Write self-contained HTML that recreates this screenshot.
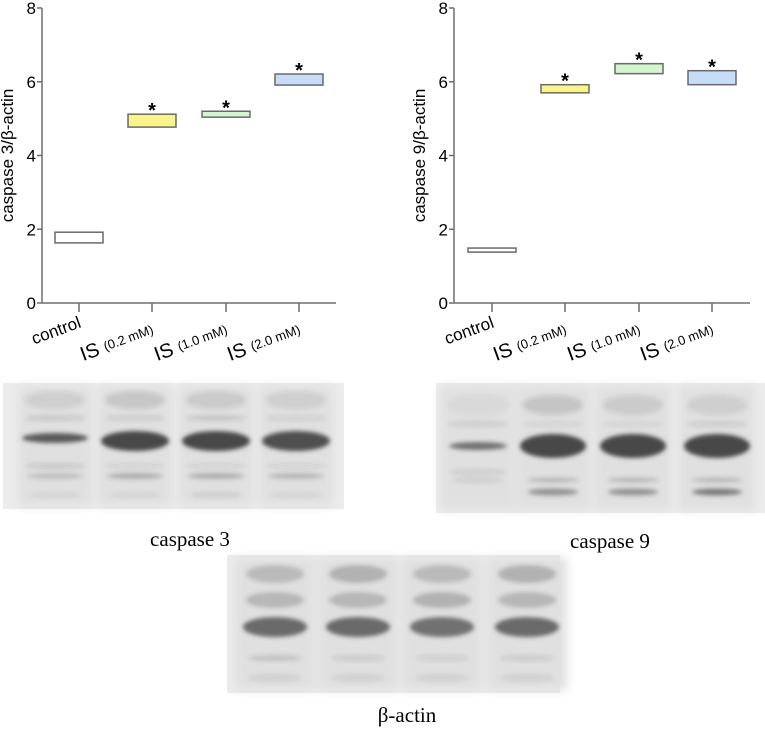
<!DOCTYPE html>
<html><head><meta charset="utf-8"><style>
html,body{margin:0;padding:0;background:#fff;width:765px;height:729px;overflow:hidden}
svg{display:block}
</style></head><body>
<svg id="fig" width="765" height="729" viewBox="0 0 765 729" xmlns="http://www.w3.org/2000/svg">
<defs>
<filter id="blur2" x="-20%" y="-80%" width="140%" height="260%"><feGaussianBlur stdDeviation="2"/></filter>
<filter id="blur4" x="-20%" y="-50%" width="140%" height="200%"><feGaussianBlur stdDeviation="5"/></filter>
</defs>
<g id="chart1"></g>
<g id="chart2"></g>
<g id="blots"></g>
<text x="190" y="546" font-family="Liberation Serif, serif" font-size="21" text-anchor="middle">caspase 3</text>
<text x="610" y="548" font-family="Liberation Serif, serif" font-size="21" text-anchor="middle">caspase 9</text>
<text x="407" y="722" font-family="Liberation Serif, 'DejaVu Serif', serif" font-size="21" text-anchor="middle">β-actin</text>
</svg>
<script>
const categories = ["control", "IS", "IS", "IS"];
const doses = ["", "(0.2 mM)", "(1.0 mM)", "(2.0 mM)"];
const colors = ["#ffffff", "#fbf48a", "#d4f5d0", "#c6dcf7"];
const yTicks = [0, 2, 4, 6, 8];
const c3Low = [1.63, 4.77, 5.04, 5.91];
const c3High = [1.92, 5.12, 5.20, 6.21];
const c3Sig = [false, true, true, true];
const c9Low = [1.38, 5.70, 6.22, 5.92];
const c9High = [1.49, 5.92, 6.49, 6.30];
const c9Sig = [false, true, true, true];

const NS = "http://www.w3.org/2000/svg";
function mk(tag, attrs, parent){const e=document.createElementNS(NS,tag);for(const k in attrs)e.setAttribute(k,attrs[k]);parent.appendChild(e);return e;}

function drawChart(g, ax, axEnd, tickXs, low, high, sig, ytitle){
  const y0=303, y8=8;
  const y=v=>y0-(y0-y8)*v/8;
  const ax1=mk("line",{x1:ax,y1:y(8),x2:ax,y2:y0,stroke:"#6e6e6e","stroke-width":1.5},g);
  
  
  const ax2=mk("line",{x1:ax,y1:y0,x2:axEnd,y2:y0,stroke:"#6e6e6e","stroke-width":1.5},g);
  
  
  yTicks.forEach(t=>{
    const tl=mk("line",{x1:ax-5,y1:y(t),x2:ax,y2:y(t),stroke:"#6e6e6e","stroke-width":1.5},g);
    
    
    const tx=mk("text",{x:ax-6,y:y(t)+6,"font-family":"Liberation Sans, sans-serif","font-size":17,"text-anchor":"end"},g);
    tx.textContent=t;
    
    
  });
  const tt=mk("text",{transform:`translate(${ax-29},${y(4)}) rotate(-90)`,"font-family":"Liberation Sans, DejaVu Sans, sans-serif","font-size":17,"text-anchor":"middle"},g);
  tt.textContent=ytitle;
  
  
  categories.forEach((c,i)=>{
    const cx=tickXs[i];
    const tk=mk("line",{x1:cx,y1:y0,x2:cx,y2:y0+9,stroke:"#6e6e6e","stroke-width":1.5},g);
    
    
    const r=mk("rect",{x:cx-24,y:y(high[i]),width:48,height:y(low[i])-y(high[i]),fill:colors[i],stroke:"#6a6a6a","stroke-width":1.5},g);
    
    
    if(sig[i]){
      const s=mk("text",{x:cx,y:y(high[i])+3,"font-family":"Liberation Sans, sans-serif","font-size":20,"font-weight":"bold","text-anchor":"middle"},g);
      s.textContent="*";
      
      
    }
    const lbl=mk("text",{transform:`translate(${cx+3},${y0+(i===0?24:32)}) rotate(-20)`,"font-family":"Liberation Sans, sans-serif","text-anchor":"end"},g);
    
    
    if(i===0){lbl.setAttribute("font-size",17);lbl.textContent=c;}
    else{
      const a=mk("tspan",{"font-size":20},lbl);a.textContent=c+" ";
      const b=mk("tspan",{"font-size":13,dy:-2},lbl);b.textContent=doses[i];
    }
  });
}
drawChart(document.getElementById("chart1"),42,336,[79,152,226,299],c3Low,c3High,c3Sig,"caspase 3/β-actin");
drawChart(document.getElementById("chart2"),454,750,[492,565,639,712],c9Low,c9High,c9Sig,"caspase 9/β-actin");

// blots
const bg=document.getElementById("blots");
function blot(x,y,w,h,lanes,bands,name,lw){
  const g=mk("g",{},bg);
  
  
  mk("rect",{x:x,y:y,width:w,height:h,fill:"#ececec"},g);
  lanes.forEach(lx=>{mk("rect",{x:lx-lw/2,y:y+3,width:lw,height:h-6,fill:"#e0e0e0",filter:"url(#blur4)"},g);});
  bands.forEach(b=>{
    lanes.forEach((lx,i)=>{
      const d=b.d[i]; if(!d)return;
      mk("ellipse",{cx:lx,cy:b.y,rx:b.w/2,ry:b.h/2,fill:`rgba(55,55,55,${d})`,filter:"url(#blur2)"},g);
    });
  });
}
blot(3,383,341,126,[55,135,216,296],[
 {y:400,w:60,h:18,d:[0.1,0.14,0.12,0.1]},
 {y:418,w:60,h:5,d:[0.15,0.12,0.18,0.1]},
 {y:438,w:66,h:10,d:[0.8,0,0,0]},
 {y:441,w:68,h:20,d:[0,0.9,0.9,0.85]},
 {y:466,w:60,h:5,d:[0.15,0.08,0.08,0.08]},
 {y:476,w:56,h:6,d:[0.2,0.3,0.3,0.25]},
 {y:495,w:50,h:5,d:[0.08,0.08,0.12,0.08]}],"caspase3-blot",74);
blot(436,383,329,130,[478,553,633,717],[
 {y:405,w:60,h:20,d:[0.05,0.15,0.12,0.1]},
 {y:424,w:60,h:5,d:[0.12,0.08,0.08,0.12]},
 {y:446,w:58,h:8,d:[0.65,0,0,0]},
 {y:446,w:66,h:24,d:[0,0.9,0.9,0.9]},
 {y:472,w:56,h:5,d:[0.12,0,0,0]},
 {y:480,w:50,h:5,d:[0.12,0.25,0.25,0.25]},
 {y:492,w:50,h:7,d:[0,0.45,0.45,0.6]}],"caspase9-blot",76);
blot(227,555,333,138,[275,358,442,527],[
 {y:574,w:58,h:18,d:[0.22,0.28,0.22,0.28]},
 {y:600,w:58,h:16,d:[0.25,0.25,0.28,0.25]},
 {y:627,w:64,h:20,d:[0.7,0.7,0.65,0.7]},
 {y:658,w:54,h:6,d:[0.18,0.12,0.1,0.12]},
 {y:678,w:54,h:10,d:[0.06,0.06,0.06,0.06]}],"beta-actin-blot",80);
</script>
</body></html>
